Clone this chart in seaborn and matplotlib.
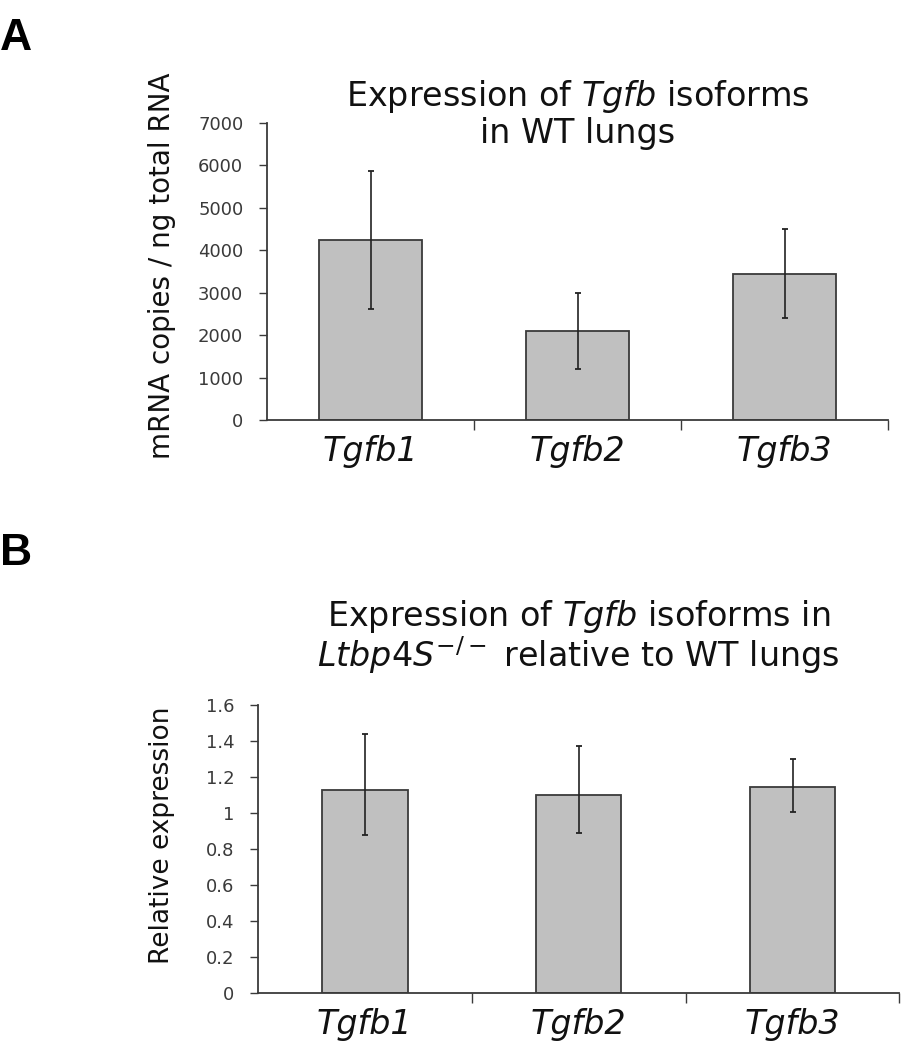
import numpy as np
import pandas as pd
import matplotlib
matplotlib.use("Agg")
import matplotlib.pyplot as plt
import seaborn as sns

sns.set_theme(style="white")
plt.rcParams['font.family'] = ['DejaVu Sans']
plt.rcParams['mathtext.fontset'] = 'dejavusans'

genes = ['Tgfb1', 'Tgfb2', 'Tgfb3']

# panel A: mRNA copies / ng total RNA
copies_mean = [4250, 2100, 3450]
copies_lo = [2620, 1200, 2400]
copies_hi = [5870, 3000, 4500]

# panel B: relative expression Ltbp4S-/- vs WT
rel_mean = [1.13, 1.10, 1.145]
rel_lo = [0.88, 0.89, 1.005]
rel_hi = [1.44, 1.37, 1.30]

BAR = '#c0c0c0'
EDGE = '#3a3a3a'
TXT = '#3a3a3a'


def draw(ax, mean, lo, hi, width, ylim, yticks, yticklabels):
    df = pd.DataFrame({'gene': genes, 'val': mean})
    sns.barplot(data=df, x='gene', y='val', order=genes, color=BAR,
                width=width, edgecolor=EDGE, linewidth=1.3,
                saturation=1, errorbar=None, ax=ax)
    x = np.arange(len(genes))
    m = np.array(mean)
    err = [m - np.array(lo), np.array(hi) - m]
    ax.errorbar(x, m, yerr=err, fmt='none', ecolor='#222222',
                elinewidth=1.2, capsize=2.5, capthick=1.3, zorder=5)
    ax.set_xlim(-0.5, 2.5)
    ax.set_ylim(*ylim)
    ax.set_yticks(yticks)
    ax.set_yticklabels(yticklabels, fontsize=13, color=TXT)
    ax.set_xticks(x)
    ax.set_xticklabels(genes, fontsize=24, fontstyle='italic', color='#111111')
    ax.set_xticks([0.5, 1.5, 2.5], minor=True)
    ax.tick_params(axis='x', which='major', length=0, pad=11)
    ax.tick_params(axis='x', which='minor', length=7, width=1, color=EDGE,
                   direction='out', bottom=True)
    ax.tick_params(axis='y', length=6, width=1, color=EDGE, direction='out',
                   left=True, pad=11)
    for s in ['top', 'right']:
        ax.spines[s].set_visible(False)
    for s in ['left', 'bottom']:
        ax.spines[s].set_color(EDGE)
        ax.spines[s].set_linewidth(1.3)
    ax.set_xlabel('')


fig = plt.figure(figsize=(9.19, 10.5), dpi=100)

axA = fig.add_axes([0.2905, 0.600, 0.676, 0.283])
draw(axA, copies_mean, copies_lo, copies_hi, 0.5, (0, 7000),
     np.arange(0, 7001, 1000), [str(v) for v in range(0, 7001, 1000)])
axA.set_ylabel('mRNA copies / ng total RNA', fontsize=20, color='#111111')
axA.yaxis.set_label_coords(-0.147, 0.52)
axA.text(0.5, 1.03, 'Expression of $\\it{Tgfb}$ isoforms\nin WT lungs',
         transform=axA.transAxes, ha='center', va='center', fontsize=24,
         color='#111111', linespacing=1.05)

axB = fig.add_axes([0.2807, 0.0543, 0.698, 0.2743])
bt = [0, 0.2, 0.4, 0.6, 0.8, 1.0, 1.2, 1.4, 1.6]
draw(axB, rel_mean, rel_lo, rel_hi, 0.4, (0, 1.6), bt,
     ['0', '0.2', '0.4', '0.6', '0.8', '1', '1.2', '1.4', '1.6'])
axB.set_ylabel('Relative expression', fontsize=19, color='#111111')
axB.yaxis.set_label_coords(-0.129, 0.547)
axB.text(0.5, 1.236,
         'Expression of $\\it{Tgfb}$ isoforms in\n$\\it{Ltbp4S}^{-/-}$ relative to WT lungs',
         transform=axB.transAxes, ha='center', va='center', fontsize=24,
         color='#111111', linespacing=1.0)

fig.text(0.0, 0.9638, 'A', fontsize=32, fontweight='bold', ha='left',
         va='center', color='black', family=['Liberation Sans', 'DejaVu Sans'])
fig.text(0.0, 0.4724, 'B', fontsize=32, fontweight='bold', ha='left',
         va='center', color='black', family=['Liberation Sans', 'DejaVu Sans'])

fig.savefig('out.png', dpi=100, facecolor='white')
